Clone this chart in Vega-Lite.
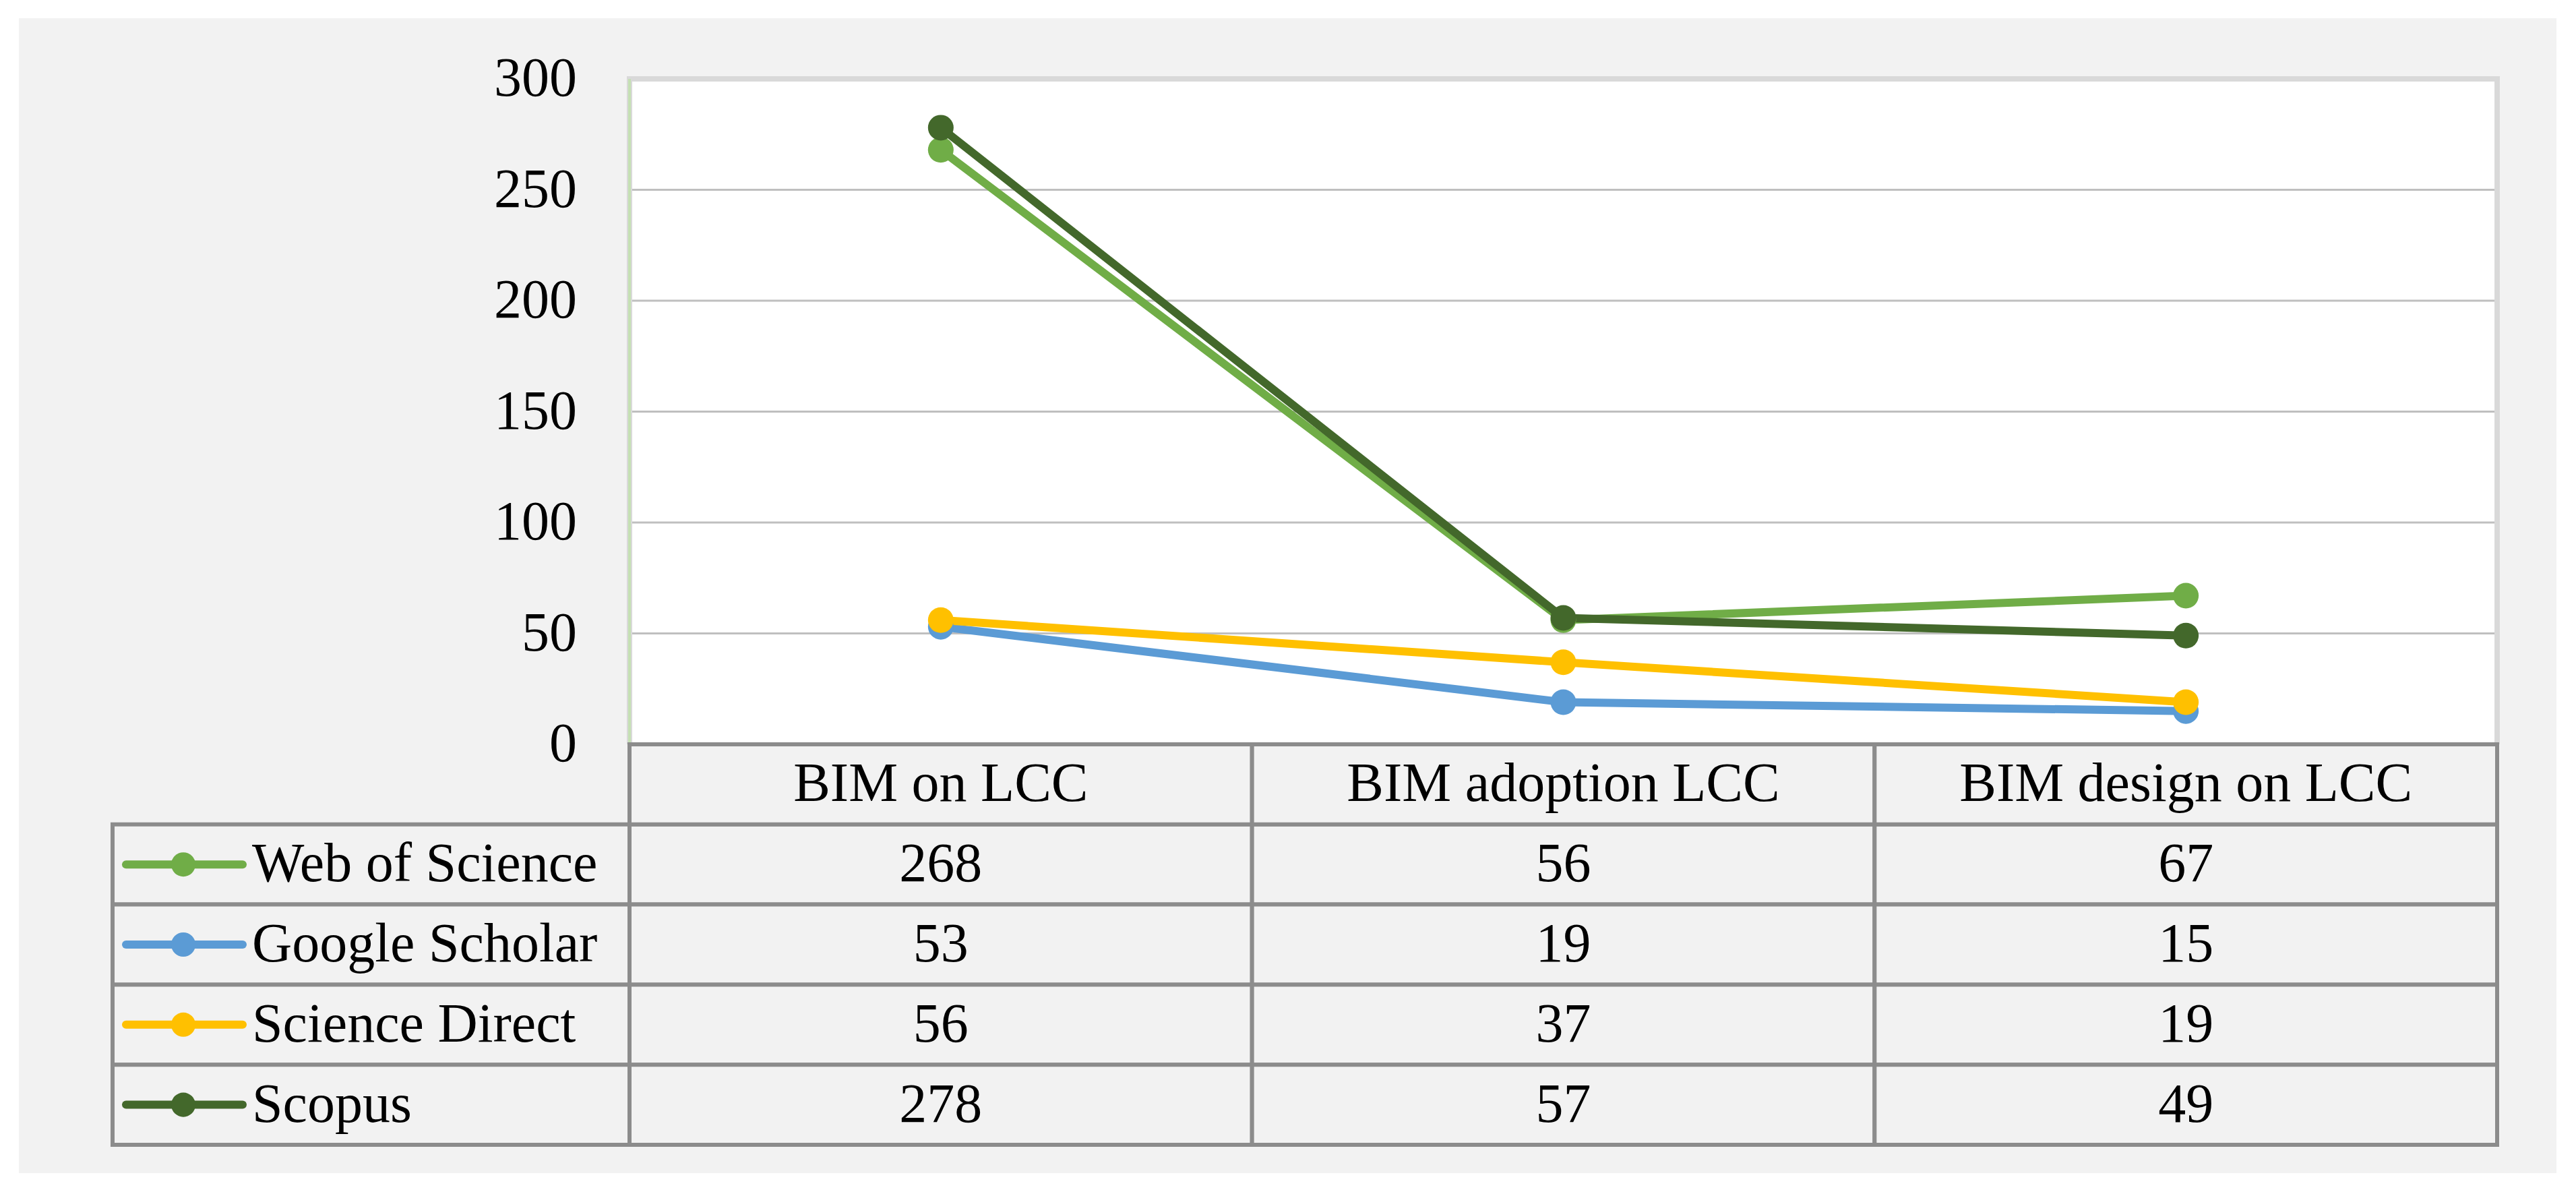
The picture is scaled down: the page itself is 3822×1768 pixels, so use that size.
{
  "$schema": "https://vega.github.io/schema/vega-lite/v6.json",
  "width": 3765,
  "height": 1713,
  "padding": {"left": 28, "top": 27, "right": 29, "bottom": 28},
  "autosize": {"type": "none"},
  "background": "white",
  "config": {
    "view": {"fill": "#f2f2f2", "stroke": null},
    "font": "Liberation Serif",
    "text": {"font": "Liberation Serif", "fontSize": 82, "color": "black"}
  },
  "datasets": {
    "counts": [
      {"source": "Web of Science", "topic": "BIM on LCC", "count": 268},
      {"source": "Web of Science", "topic": "BIM adoption LCC", "count": 56},
      {"source": "Web of Science", "topic": "BIM design on LCC", "count": 67},
      {"source": "Google Scholar", "topic": "BIM on LCC", "count": 53},
      {"source": "Google Scholar", "topic": "BIM adoption LCC", "count": 19},
      {"source": "Google Scholar", "topic": "BIM design on LCC", "count": 15},
      {"source": "Science Direct", "topic": "BIM on LCC", "count": 56},
      {"source": "Science Direct", "topic": "BIM adoption LCC", "count": 37},
      {"source": "Science Direct", "topic": "BIM design on LCC", "count": 19},
      {"source": "Scopus", "topic": "BIM on LCC", "count": 278},
      {"source": "Scopus", "topic": "BIM adoption LCC", "count": 57},
      {"source": "Scopus", "topic": "BIM design on LCC", "count": 49}
    ],
    "ticks": [{"v": 0}, {"v": 50}, {"v": 100}, {"v": 150}, {"v": 200}, {"v": 250}, {"v": 300}]
  },
  "data": {"name": "counts"},
  "layer": [
    {
      "layer": [
        {
          "transform": [{"aggregate": [{"op": "count", "as": "n"}], "groupby": ["topic"]}],
          "mark": {"type": "rect", "fill": "white", "stroke": "white", "strokeWidth": 2},
          "encoding": {
            "x": {"field": "topic", "type": "nominal", "scale": {"type": "band", "domain": ["BIM on LCC", "BIM adoption LCC", "BIM design on LCC"], "range": [906, 3677], "paddingInner": 0, "paddingOuter": 0}, "axis": null},
            "y": {"datum": 0, "type": "quantitative", "scale": {"domain": [0, 300], "range": [1077, 90], "nice": false, "zero": true}, "axis": null},
            "y2": {"datum": 300}
          }
        },
        {
          "data": {"name": "ticks"},
          "transform": [{"filter": "datum.v > 0 && datum.v < 300"}],
          "mark": {"type": "rule", "color": "#bfbfbf", "strokeWidth": 3},
          "encoding": {
            "x": {"datum": "BIM on LCC", "type": "nominal", "bandPosition": 0, "scale": {"type": "band", "domain": ["BIM on LCC", "BIM adoption LCC", "BIM design on LCC"], "range": [906, 3677], "paddingInner": 0, "paddingOuter": 0}, "axis": null},
            "x2": {"datum": "BIM design on LCC", "bandPosition": 1},
            "y": {"field": "v", "type": "quantitative", "scale": {"domain": [0, 300], "range": [1077, 90], "nice": false, "zero": true}, "axis": null}
          }
        },
        {
          "data": {"name": "ticks"},
          "mark": {"type": "text", "align": "right", "baseline": "middle", "xOffset": -78, "fontSize": 82, "font": "Liberation Serif", "color": "black"},
          "encoding": {
            "x": {"datum": "BIM on LCC", "type": "nominal", "bandPosition": 0, "scale": {"type": "band", "domain": ["BIM on LCC", "BIM adoption LCC", "BIM design on LCC"], "range": [906, 3677], "paddingInner": 0, "paddingOuter": 0}, "axis": null},
            "y": {"field": "v", "type": "quantitative", "scale": {"domain": [0, 300], "range": [1077, 90], "nice": false, "zero": true}, "axis": null},
            "text": {"field": "v", "type": "quantitative"}
          }
        },
        {
          "mark": {"type": "rule", "color": "#d9d9d9", "strokeWidth": 7, "xOffset": -4, "x2Offset": 4},
          "encoding": {
            "x": {"datum": "BIM on LCC", "type": "nominal", "bandPosition": 0, "scale": {"type": "band", "domain": ["BIM on LCC", "BIM adoption LCC", "BIM design on LCC"], "range": [906, 3677], "paddingInner": 0, "paddingOuter": 0}, "axis": null},
            "x2": {"datum": "BIM design on LCC", "bandPosition": 1},
            "y": {"datum": 300, "type": "quantitative", "scale": {"domain": [0, 300], "range": [1077, 90], "nice": false, "zero": true}, "axis": null}
          }
        },
        {
          "mark": {"type": "rule", "color": "#d9d9d9", "strokeWidth": 7, "y2Offset": -3},
          "encoding": {
            "x": {"datum": "BIM design on LCC", "type": "nominal", "bandPosition": 1, "scale": {"type": "band", "domain": ["BIM on LCC", "BIM adoption LCC", "BIM design on LCC"], "range": [906, 3677], "paddingInner": 0, "paddingOuter": 0}, "axis": null},
            "y": {"datum": 0, "type": "quantitative", "scale": {"domain": [0, 300], "range": [1077, 90], "nice": false, "zero": true}, "axis": null},
            "y2": {"datum": 300}
          }
        },
        {
          "mark": {"type": "rule", "color": "#d9d9d9", "strokeWidth": 8, "y2Offset": -3},
          "encoding": {
            "x": {"datum": "BIM on LCC", "type": "nominal", "bandPosition": 0, "scale": {"type": "band", "domain": ["BIM on LCC", "BIM adoption LCC", "BIM design on LCC"], "range": [906, 3677], "paddingInner": 0, "paddingOuter": 0}, "axis": null},
            "y": {"datum": 0, "type": "quantitative", "scale": {"domain": [0, 300], "range": [1077, 90], "nice": false, "zero": true}, "axis": null},
            "y2": {"datum": 300}
          }
        },
        {
          "mark": {"type": "rule", "color": "#c5e0b4", "strokeWidth": 4},
          "encoding": {
            "x": {"datum": "BIM on LCC", "type": "nominal", "bandPosition": 0, "scale": {"type": "band", "domain": ["BIM on LCC", "BIM adoption LCC", "BIM design on LCC"], "range": [906, 3677], "paddingInner": 0, "paddingOuter": 0}, "axis": null},
            "y": {"datum": 0, "type": "quantitative", "scale": {"domain": [0, 300], "range": [1077, 90], "nice": false, "zero": true}, "axis": null},
            "y2": {"datum": 300}
          }
        },
        {
          "mark": {"type": "line", "strokeWidth": 12},
          "encoding": {
            "x": {"field": "topic", "type": "nominal", "bandPosition": 0.5, "scale": {"type": "band", "domain": ["BIM on LCC", "BIM adoption LCC", "BIM design on LCC"], "range": [906, 3677], "paddingInner": 0, "paddingOuter": 0}, "axis": null},
            "y": {"field": "count", "type": "quantitative", "scale": {"domain": [0, 300], "range": [1077, 90], "nice": false, "zero": true}, "axis": null},
            "color": {"field": "source", "type": "nominal", "scale": {"domain": ["Web of Science", "Google Scholar", "Science Direct", "Scopus"], "range": ["#70ad47", "#5b9bd5", "#ffc000", "#43682b"]}, "legend": null}
          }
        },
        {
          "mark": {"type": "point", "filled": true, "opacity": 1, "size": 1444, "shape": "circle"},
          "encoding": {
            "x": {"field": "topic", "type": "nominal", "bandPosition": 0.5, "scale": {"type": "band", "domain": ["BIM on LCC", "BIM adoption LCC", "BIM design on LCC"], "range": [906, 3677], "paddingInner": 0, "paddingOuter": 0}, "axis": null},
            "y": {"field": "count", "type": "quantitative", "scale": {"domain": [0, 300], "range": [1077, 90], "nice": false, "zero": true}, "axis": null},
            "color": {"field": "source", "type": "nominal", "scale": {"domain": ["Web of Science", "Google Scholar", "Science Direct", "Scopus"], "range": ["#70ad47", "#5b9bd5", "#ffc000", "#43682b"]}, "legend": null}
          }
        }
      ]
    },
    {
      "layer": [
        {
          "mark": {"type": "rect", "fill": "#f2f2f2", "stroke": "#8c8c8c", "strokeWidth": 6},
          "encoding": {
            "x": {"field": "topic", "type": "nominal", "scale": {"type": "band", "domain": ["BIM on LCC", "BIM adoption LCC", "BIM design on LCC"], "range": [906, 3677], "paddingInner": 0, "paddingOuter": 0}, "axis": null},
            "y": {"field": "source", "type": "nominal", "scale": {"type": "band", "domain": ["header", "Web of Science", "Google Scholar", "Science Direct", "Scopus"], "range": [1077, 1671], "paddingInner": 0, "paddingOuter": 0}, "axis": null}
          }
        },
        {
          "transform": [{"aggregate": [{"op": "count", "as": "n"}], "groupby": ["topic"]}],
          "mark": {"type": "rect", "fill": "#f2f2f2", "stroke": "#8c8c8c", "strokeWidth": 6},
          "encoding": {
            "x": {"field": "topic", "type": "nominal", "scale": {"type": "band", "domain": ["BIM on LCC", "BIM adoption LCC", "BIM design on LCC"], "range": [906, 3677], "paddingInner": 0, "paddingOuter": 0}, "axis": null},
            "y": {"datum": "header", "type": "nominal", "scale": {"type": "band", "domain": ["header", "Web of Science", "Google Scholar", "Science Direct", "Scopus"], "range": [1077, 1671], "paddingInner": 0, "paddingOuter": 0}, "axis": null}
          }
        },
        {
          "transform": [{"aggregate": [{"op": "count", "as": "n"}], "groupby": ["source"]}],
          "mark": {"type": "rect", "fill": "#f2f2f2", "stroke": "#8c8c8c", "strokeWidth": 6, "xOffset": -767},
          "encoding": {
            "x": {"datum": "BIM on LCC", "type": "nominal", "bandPosition": 0, "scale": {"type": "band", "domain": ["BIM on LCC", "BIM adoption LCC", "BIM design on LCC"], "range": [906, 3677], "paddingInner": 0, "paddingOuter": 0}, "axis": null},
            "x2": {"datum": "BIM on LCC", "bandPosition": 0},
            "y": {"field": "source", "type": "nominal", "scale": {"type": "band", "domain": ["header", "Web of Science", "Google Scholar", "Science Direct", "Scopus"], "range": [1077, 1671], "paddingInner": 0, "paddingOuter": 0}, "axis": null}
          }
        },
        {
          "mark": {"type": "text", "align": "center", "baseline": "middle"},
          "encoding": {
            "x": {"field": "topic", "type": "nominal", "bandPosition": 0.5, "scale": {"type": "band", "domain": ["BIM on LCC", "BIM adoption LCC", "BIM design on LCC"], "range": [906, 3677], "paddingInner": 0, "paddingOuter": 0}, "axis": null},
            "y": {"field": "source", "type": "nominal", "bandPosition": 0.5, "scale": {"type": "band", "domain": ["header", "Web of Science", "Google Scholar", "Science Direct", "Scopus"], "range": [1077, 1671], "paddingInner": 0, "paddingOuter": 0}, "axis": null},
            "text": {"field": "count", "type": "quantitative"}
          }
        },
        {
          "transform": [{"aggregate": [{"op": "count", "as": "n"}], "groupby": ["topic"]}],
          "mark": {"type": "text", "align": "center", "baseline": "middle"},
          "encoding": {
            "x": {"field": "topic", "type": "nominal", "bandPosition": 0.5, "scale": {"type": "band", "domain": ["BIM on LCC", "BIM adoption LCC", "BIM design on LCC"], "range": [906, 3677], "paddingInner": 0, "paddingOuter": 0}, "axis": null},
            "y": {"datum": "header", "type": "nominal", "bandPosition": 0.5, "scale": {"type": "band", "domain": ["header", "Web of Science", "Google Scholar", "Science Direct", "Scopus"], "range": [1077, 1671], "paddingInner": 0, "paddingOuter": 0}, "axis": null},
            "text": {"field": "topic", "type": "nominal"}
          }
        },
        {
          "transform": [{"aggregate": [{"op": "count", "as": "n"}], "groupby": ["source"]}],
          "mark": {"type": "text", "align": "left", "baseline": "middle", "xOffset": -560},
          "encoding": {
            "x": {"datum": "BIM on LCC", "type": "nominal", "bandPosition": 0, "scale": {"type": "band", "domain": ["BIM on LCC", "BIM adoption LCC", "BIM design on LCC"], "range": [906, 3677], "paddingInner": 0, "paddingOuter": 0}, "axis": null},
            "y": {"field": "source", "type": "nominal", "bandPosition": 0.5, "scale": {"type": "band", "domain": ["header", "Web of Science", "Google Scholar", "Science Direct", "Scopus"], "range": [1077, 1671], "paddingInner": 0, "paddingOuter": 0}, "axis": null},
            "text": {"field": "source", "type": "nominal"}
          }
        },
        {
          "transform": [{"aggregate": [{"op": "count", "as": "n"}], "groupby": ["source"]}],
          "mark": {"type": "rule", "strokeWidth": 12, "strokeCap": "round", "xOffset": -747, "x2Offset": -574},
          "encoding": {
            "x": {"datum": "BIM on LCC", "type": "nominal", "bandPosition": 0, "scale": {"type": "band", "domain": ["BIM on LCC", "BIM adoption LCC", "BIM design on LCC"], "range": [906, 3677], "paddingInner": 0, "paddingOuter": 0}, "axis": null},
            "x2": {"datum": "BIM on LCC", "bandPosition": 0},
            "y": {"field": "source", "type": "nominal", "bandPosition": 0.5, "scale": {"type": "band", "domain": ["header", "Web of Science", "Google Scholar", "Science Direct", "Scopus"], "range": [1077, 1671], "paddingInner": 0, "paddingOuter": 0}, "axis": null},
            "color": {"field": "source", "type": "nominal", "scale": {"domain": ["Web of Science", "Google Scholar", "Science Direct", "Scopus"], "range": ["#70ad47", "#5b9bd5", "#ffc000", "#43682b"]}, "legend": null}
          }
        },
        {
          "transform": [{"aggregate": [{"op": "count", "as": "n"}], "groupby": ["source"]}],
          "mark": {"type": "point", "filled": true, "opacity": 1, "size": 1300, "shape": "circle", "xOffset": -662},
          "encoding": {
            "x": {"datum": "BIM on LCC", "type": "nominal", "bandPosition": 0, "scale": {"type": "band", "domain": ["BIM on LCC", "BIM adoption LCC", "BIM design on LCC"], "range": [906, 3677], "paddingInner": 0, "paddingOuter": 0}, "axis": null},
            "y": {"field": "source", "type": "nominal", "bandPosition": 0.5, "scale": {"type": "band", "domain": ["header", "Web of Science", "Google Scholar", "Science Direct", "Scopus"], "range": [1077, 1671], "paddingInner": 0, "paddingOuter": 0}, "axis": null},
            "color": {"field": "source", "type": "nominal", "scale": {"domain": ["Web of Science", "Google Scholar", "Science Direct", "Scopus"], "range": ["#70ad47", "#5b9bd5", "#ffc000", "#43682b"]}, "legend": null}
          }
        }
      ]
    }
  ],
  "resolve": {"scale": {"y": "independent"}}
}
